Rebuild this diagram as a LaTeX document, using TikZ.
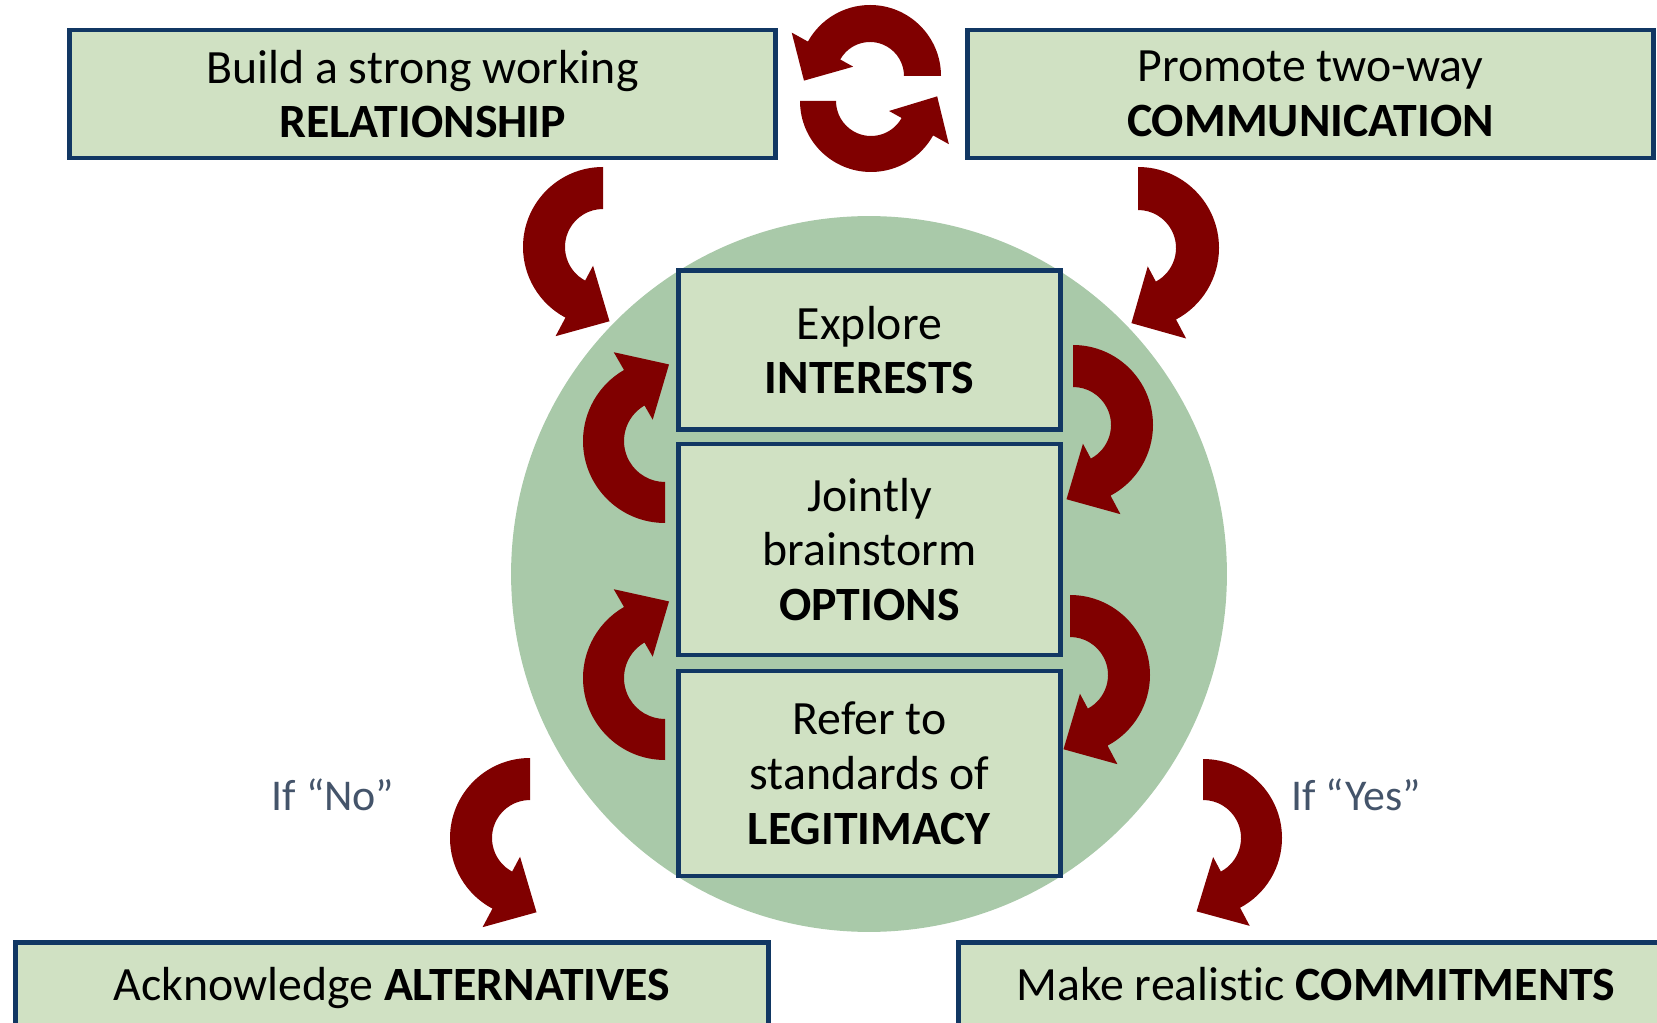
\documentclass[tikz,border=0pt]{standalone}
\usepackage{fontspec}
\setmainfont{Carlito}[Ligatures=NoCommon]
\usetikzlibrary{calc}

\definecolor{boxgreen}{RGB}{208,225,195}
\definecolor{hubgreen}{RGB}{169,201,169}
\definecolor{boxblue}{RGB}{17,55,99}
\definecolor{arrowred}{RGB}{128,0,0}
\definecolor{labelgrey}{RGB}{68,84,106}

\tikzset{
  goalbox/.style={draw=boxblue, line width=2.8pt, fill=boxgreen, align=center, inner sep=0pt,
    font=\fontsize{27.2}{31.2}\selectfont},
  iflabel/.style={text=labelgrey, inner sep=0pt, font=\fontsize{25}{30}\selectfont}
}

% curved arrow: cx cy r_in r_out start end dir (+1 ccw, -1 cw)
\newcommand{\turnarrow}[7]{%
  \pgfmathsetmacro\arA{-(#5)}%
  \pgfmathsetmacro\arB{-(#6)}%
  \pgfmathsetmacro\arT{-(#6)-(#7)*33}%
  \pgfmathsetmacro\arW{#4-#3}%
  \pgfmathsetmacro\arH{#4+0.5*\arW}%
  \pgfmathsetmacro\arL{#3-0.4*\arW}%
  \pgfmathsetmacro\arM{(#3+#4)/2+0.37*\arW}%
  \fill[arrowred] ($(#1,#2)+(\arA:#4)$) arc[start angle=\arA, end angle=\arB, radius=#4]
    -- ($(#1,#2)+(\arB:\arH)$) -- ($(#1,#2)+(\arT:\arM)$) -- ($(#1,#2)+(\arB:\arL)$)
    -- ($(#1,#2)+(\arB:#3)$) arc[start angle=\arB, end angle=\arA, radius=#3] -- cycle;
}

\begin{document}
\begin{tikzpicture}[x=0.02cm, y=-0.02cm]
\useasboundingbox (0,0) rectangle (1657,1023);

\node[circle, fill=hubgreen, inner sep=0pt, minimum size=14.32cm] (hub) at (869,574) {};

\node[goalbox, minimum width=14.14cm, minimum height=2.56cm] (rel) at (422.5,94) {Build a strong working\\\textbf{RELATIONSHIP}};
\node[goalbox, minimum width=13.74cm, minimum height=2.56cm] (comm) at (1310.5,94) {Promote two-way\\\textbf{COMMUNICATION}};

\node[goalbox, minimum width=7.64cm, minimum height=3.18cm] (interests) at (869.5,350) {Explore\\\textbf{INTERESTS}};
\node[goalbox, minimum width=7.64cm, minimum height=4.22cm] (options) at (869.5,549.5) {Jointly\\brainstorm\\\textbf{OPTIONS}};
\node[goalbox, minimum width=7.64cm, minimum height=4.10cm] (legit) at (869.5,773.5) {Refer to\\standards of\\\textbf{LEGITIMACY}};

\node[goalbox, minimum width=15.06cm, minimum height=1.82cm] (alt) at (392,988) {Acknowledge \textbf{ALTERNATIVES}};
\node[goalbox, minimum width=14.32cm, minimum height=1.82cm] (commit) at (1316,988) {Make realistic \textbf{COMMITMENTS}\vphantom{g}};

\node[iflabel] (ifno) at (333,795) {If “No”};
\node[iflabel] (ifyes) at (1356,795) {If “Yes”};

% top cycle
\turnarrow{870}{76}{34}{71}{0}{151}{1}
\turnarrow{871}{101}{35}{71}{180}{331}{1}
% into the circle
\turnarrow{603}{247}{38}{80}{90}{242}{1}
\turnarrow{1138}{248}{38}{81}{90}{-62}{-1}
% round the steps
\turnarrow{665}{441}{41}{82}{270}{120}{-1}
\turnarrow{1073}{425}{38}{80}{90}{-62}{-1}
\turnarrow{665}{678}{41}{82}{270}{120}{-1}
\turnarrow{1070}{675}{38}{80}{90}{-62}{-1}
% out to the outcomes
\turnarrow{530}{838}{38}{80}{90}{242}{1}
\turnarrow{1203}{838}{38}{79}{90}{-62}{-1}

\end{tikzpicture}
\end{document}
